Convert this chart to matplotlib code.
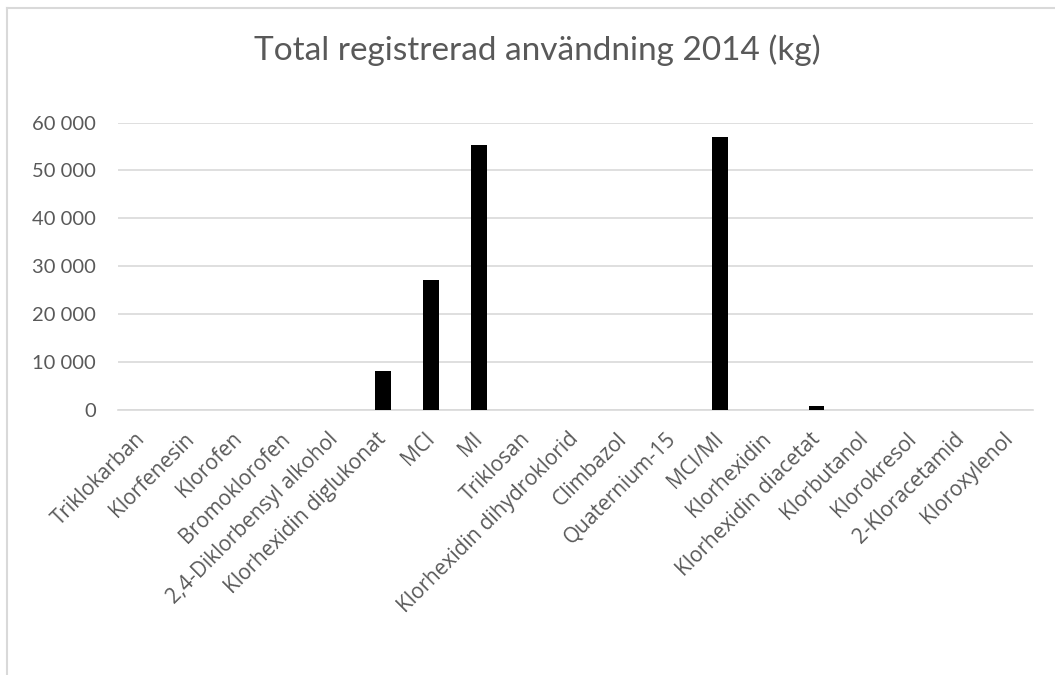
import numpy as np
import matplotlib.pyplot as plt
from matplotlib.lines import Line2D
from matplotlib.ticker import FuncFormatter
from matplotlib.transforms import ScaledTranslation

# Registered use per substance, kg
substances = [
    "Triklokarban", "Klorfenesin", "Klorofen", "Bromoklorofen",
    "2,4-Diklorbensyl alkohol", "Klorhexidin diglukonat", "MCI", "MI",
    "Triklosan", "Klorhexidin dihydroklorid", "Climbazol", "Quaternium-15",
    "MCI/MI", "Klorhexidin", "Klorhexidin diacetat", "Klorbutanol",
    "Klorokresol", "2-Kloracetamid", "Kloroxylenol",
]
usage_kg = [0, 0, 0, 0, 0, 8200, 27200, 55400, 0, 0, 0, 0,
            56900, 0, 900, 0, 0, 0, 0]
y_ticks = [0, 10000, 20000, 30000, 40000, 50000, 60000]

TEXT = "#595959"
GRID = "#d9d9d9"

W, H = 1055, 675
fig = plt.figure(figsize=(W / 100, H / 100), dpi=100)
ax = fig.add_axes([118 / W, 1 - 410.3 / H, 915 / W, 287.8 / H])

x = np.arange(len(substances))
ax.bar(x, usage_kg, width=0.32, color="black", zorder=3)

ax.set_xlim(-0.5, len(substances) - 0.5)
ax.set_ylim(0, 60000)
ax.set_yticks(y_ticks)
ax.yaxis.set_major_formatter(FuncFormatter(lambda v, _: f"{int(v):,}".replace(",", " ")))
ax.grid(axis="y", color=GRID, linewidth=1.2, zorder=0)
ax.set_axisbelow(True)
for s in ax.spines.values():
    s.set_visible(False)
ax.spines["bottom"].set_visible(True)
ax.spines["bottom"].set_color(GRID)
ax.spines["bottom"].set_linewidth(1.2)

ax.tick_params(axis="both", length=0, colors=TEXT)
ax.tick_params(axis="y", pad=16, labelsize=14.5)
for lbl in ax.get_yticklabels():
    lbl.set_fontfamily("Lato")

ax.set_xticks(x)
ax.set_xticklabels(substances, rotation=45, ha="right", rotation_mode="anchor",
                   fontsize=15, fontfamily="Open Sans", color=TEXT)
ax.tick_params(axis="x", pad=13)
# nudge the slanted labels a little left of the tick
shift = ScaledTranslation(-7 / 100, 0, fig.dpi_scale_trans)
for lbl in ax.get_xticklabels():
    lbl.set_transform(lbl.get_transform() + shift)

fig.text(537 / W, 1 - 50 / H, "Total registrerad användning 2014 (kg)",
         ha="center", va="center", fontsize=24, fontfamily="Lato",
         color=TEXT)

# chart frame: top and left edges only
fig.add_artist(Line2D([6.7 / W, 1], [1 - 8.3 / H, 1 - 8.3 / H], color=GRID, lw=1.5))
fig.add_artist(Line2D([6.7 / W, 6.7 / W], [0, 1 - 8.3 / H], color=GRID, lw=1.5))

fig.savefig("out.png", dpi=100, facecolor="white")
